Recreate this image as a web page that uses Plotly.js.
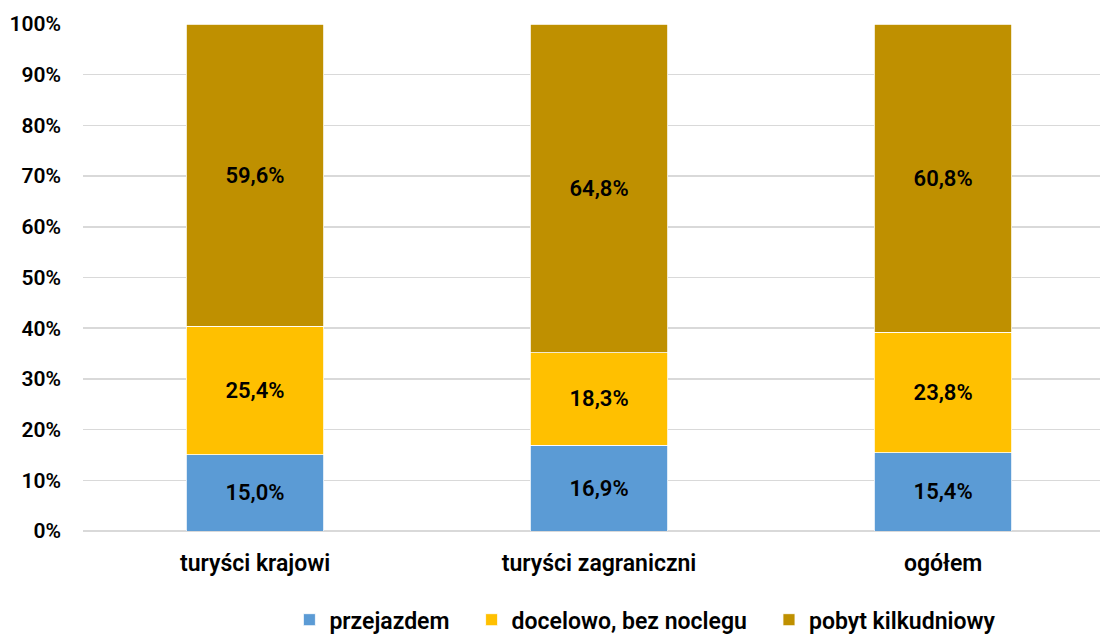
<!DOCTYPE html>
<html>
<head>
<meta charset="utf-8">
<script src="https://cdn.plot.ly/plotly-3.0.1.min.js"></script>
<style>html,body{margin:0;padding:0;background:#fff;}#chart{width:1100px;height:638px;}</style>
</head>
<body>
<div id="chart"></div>
<script>
const categories = ["turyści krajowi", "turyści zagraniczni", "ogółem"];
const seriesNames = ["przejazdem", "docelowo, bez noclegu", "pobyt kilkudniowy"];
const przejazdem = [15.0, 16.9, 15.4];
const docelowo = [25.4, 18.3, 23.8];
const pobyt = [59.6, 64.8, 60.8];
const yTickVals = [0, 10, 20, 30, 40, 50, 60, 70, 80, 90, 100];
const yTickText = ["0%", "10%", "20%", "30%", "40%", "50%", "60%", "70%", "80%", "90%", "100%"];
const colors = ["#5B9BD5", "#FFC000", "#BF9000"];

const FONT = "Roboto, 'DejaVu Sans', sans-serif";
const PAD = "\u00a0\u00a0\u00a0";
const values = [przejazdem, docelowo, pobyt];
const traces = values.map((v, i) => ({
  type: "bar",
  name: seriesNames[i] + (i < values.length - 1 ? PAD : ""),
  x: categories,
  y: v,
  width: 0.4,
  marker: {color: colors[i], line: {color: "#ffffff", width: 0.8}},
  texttemplate: "%{y:.1f}%",
  textposition: "inside",
  insidetextanchor: "middle",
  textangle: 0,
  textfont: {family: FONT, size: 22, color: "#000000", weight: 600},
  hoverinfo: "skip"
}));

const layout = {
  width: 1100, height: 638,
  barmode: "stack",
  separators: ", ",
  paper_bgcolor: "#ffffff",
  plot_bgcolor: "#ffffff",
  margin: {l: 83, r: 0, t: 24, b: 107, pad: 0, autoexpand: false},
  font: {family: FONT, size: 20, color: "#000000", weight: 600},
  showlegend: true,
  legend: {
    orientation: "h",
    x: 0.553, xanchor: "center",
    y: -0.175, yanchor: "middle",
    font: {family: FONT, size: 23, color: "#000000", weight: 600},
    itemwidth: 30,
    traceorder: "normal",
    itemclick: false
  },
  xaxis: {
    type: "category",
    range: [-0.5, 2.456],
    showgrid: false,
    zeroline: false,
    showline: false,
    ticks: "",
    automargin: false,
    ticklabelstandoff: 16,
    tickfont: {family: FONT, size: 23, color: "#000000", weight: 600}
  },
  yaxis: {
    range: [0, 100],
    tickvals: yTickVals,
    ticktext: yTickText,
    showgrid: true,
    gridcolor: "#D9D9D9",
    gridwidth: 1.5,
    zeroline: true,
    zerolinecolor: "#D9D9D9",
    zerolinewidth: 1.5,
    showline: false,
    ticks: "",
    automargin: false,
    ticklabelstandoff: 21,
    tickfont: {family: FONT, size: 21, color: "#000000", weight: 600}
  }
};

Plotly.newPlot("chart", traces, layout, {displayModeBar: false, staticPlot: true});
</script>
</body>
</html>
